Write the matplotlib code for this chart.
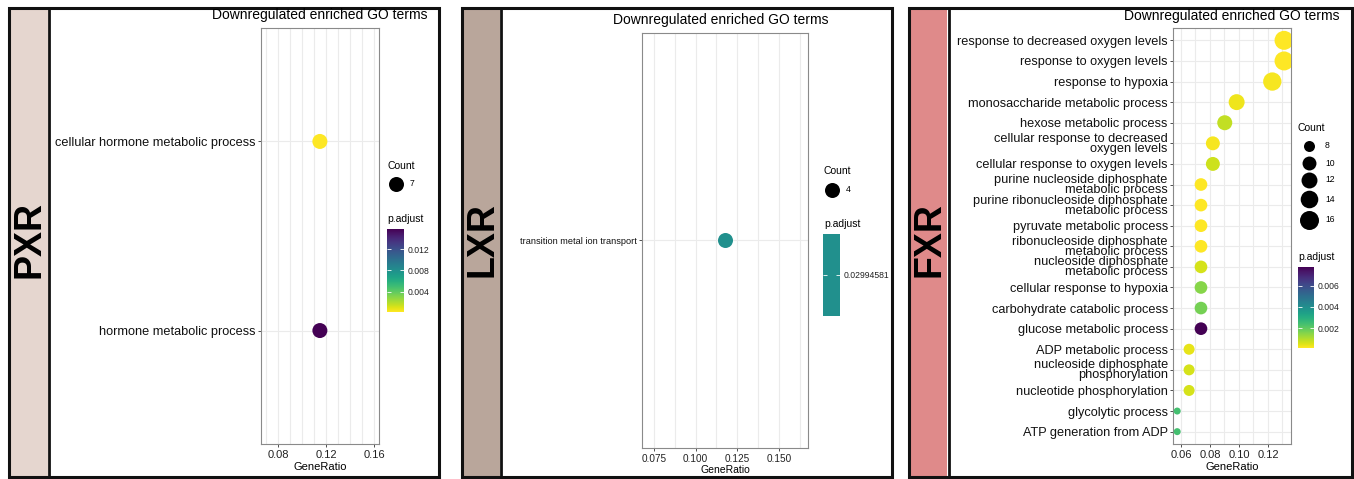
import numpy as np
import matplotlib
matplotlib.use('Agg')
import matplotlib.pyplot as plt
from matplotlib.colors import Normalize, ListedColormap
from matplotlib.patches import Rectangle
from matplotlib.cm import ScalarMappable

plt.rcParams['font.family'] = ['Liberation Sans', 'DejaVu Sans']

W, H = 1354, 479

# ---- data (top to bottom as shown) ----
pxr_terms = ['cellular hormone metabolic process', 'hormone metabolic process']
pxr_ratio = [0.1148, 0.1148]
pxr_count = [7, 7]
pxr_padj = [0.0002, 0.0158]

lxr_terms = ['transition metal ion transport']
lxr_ratio = [0.1176]
lxr_count = [4]
lxr_padj = [0.02994581]

fxr_terms = ['response to decreased oxygen levels', 'response to oxygen levels',
             'response to hypoxia', 'monosaccharide metabolic process',
             'hexose metabolic process', 'cellular response to decreased\noxygen levels',
             'cellular response to oxygen levels', 'purine nucleoside diphosphate\nmetabolic process',
             'purine ribonucleoside diphosphate\nmetabolic process', 'pyruvate metabolic process',
             'ribonucleoside diphosphate\nmetabolic process', 'nucleoside diphosphate\nmetabolic process',
             'cellular response to hypoxia', 'carbohydrate catabolic process',
             'glucose metabolic process', 'ADP metabolic process',
             'nucleoside diphosphate\nphosphorylation', 'nucleotide phosphorylation',
             'glycolytic process', 'ATP generation from ADP']
fxr_ratio = [0.1311, 0.1311, 0.1230, 0.0984, 0.0902, 0.0820, 0.0820, 0.0738, 0.0738, 0.0738,
             0.0738, 0.0738, 0.0738, 0.0738, 0.0738, 0.0656, 0.0656, 0.0656, 0.0574, 0.0574]
fxr_count = [16, 16, 15, 12, 11, 10, 10, 9, 9, 9, 9, 9, 9, 9, 9, 8, 8, 8, 7, 7]
fxr_padj = [0.0001, 0.0001, 0.0002, 0.0003, 0.0008, 0.0002, 0.0007, 0.0001, 0.0001, 0.0001,
            0.0001, 0.0006, 0.0015, 0.0017, 0.0078, 0.0004, 0.0006, 0.0006, 0.0024, 0.0024]
fxr_size_breaks = [8, 10, 12, 14, 16]

strip_labels = ['PXR', 'LXR', 'FXR']
strip_colors = ['#e5d6cf', '#b9a69b', '#df8a8a']

cmap = plt.get_cmap('viridis_r')

fig = plt.figure(figsize=(W / 100, H / 100), dpi=100)
bg = fig.add_axes([0, 0, 1, 1])
bg.set_xlim(0, W)
bg.set_ylim(H, 0)
bg.axis('off')


def px_box(x0, y0, x1, y1):
    return [x0 / W, 1 - y1 / H, (x1 - x0) / W, (y1 - y0) / H]


def diam(c, lo, hi):
    if hi == lo:
        return 15.0
    return 7 + 12 * np.sqrt((c - lo) / (hi - lo))


def to_s(d):
    return (d * 0.72) ** 2


# panel frames and strips
frames = [(8.5, 439, 10, 48, 49), (462, 891.5, 463, 500, 501), (908.5, 1351.5, 910, 947, 948.5)]
for (fx0, fx1, sx0, sx1, dv), lab, col in zip(frames, strip_labels, strip_colors):
    bg.add_patch(Rectangle((sx0, 8), sx1 - sx0, 469, facecolor=col, edgecolor='none'))
    bg.add_patch(Rectangle((fx0, 7.5), fx1 - fx0, 469.5, facecolor='none', edgecolor='#111111', lw=2.2))
    bg.plot([dv, dv], [7.5, 477], color='#111111', lw=2.0)
    bg.text((sx0 + sx1) / 2 + 1, 240, lab, rotation=90, ha='center', va='center',
            fontsize=27, fontweight='bold', color='black')


def dot_panel(box, terms, ratio, count, padj, xlim, xticks, xticklabels, xgrid, norm, cm,
              lo, hi, ylab_fs, xt_fs):
    ax = fig.add_axes(px_box(*box))
    n = len(terms)
    y = np.arange(n)[::-1]
    for g in xgrid:
        ax.axvline(g, color='#ebebeb', lw=0.8, zorder=0)
    for yy in y:
        ax.axhline(yy, color='#ebebeb', lw=0.8, zorder=0)
    sizes = [to_s(diam(c, lo, hi)) for c in count]
    ax.scatter(ratio, y, s=sizes, c=padj, cmap=cm, norm=norm, linewidths=0, zorder=3)
    ax.set_xlim(*xlim)
    ax.set_ylim(-0.6, n - 0.4)
    ax.set_xticks(xticks)
    ax.set_xticklabels(xticklabels)
    ax.set_yticks(y)
    ax.set_yticklabels(terms)
    for t in ax.get_yticklabels():
        t.set_linespacing(0.78)
    ax.tick_params(axis='y', length=2.5, width=0.6, color='#333333', pad=1.2,
                   labelsize=ylab_fs, labelcolor='#111111')
    ax.tick_params(axis='x', length=2.5, width=0.6, color='#333333', pad=1.5,
                   labelsize=xt_fs, labelcolor='#222222')
    for s in ax.spines.values():
        s.set_color('#8a8a8a')
        s.set_linewidth(0.8)
    return ax


def colorbar(box, norm, cm, ticks, labels):
    cax = fig.add_axes(px_box(*box))
    cb = fig.colorbar(ScalarMappable(norm=norm, cmap=cm), cax=cax, ticks=ticks)
    cb.set_ticklabels(labels)
    cb.outline.set_visible(False)
    cax.tick_params(left=True, right=True, labelleft=False, labelright=True, direction='in',
                    color='white', length=3, width=0.6, labelsize=6.2, labelcolor='#222222', pad=2.5)
    return cb


title = 'Downregulated enriched GO terms'

# ---- PXR ----
pn = Normalize(vmin=min(pxr_padj), vmax=max(pxr_padj))
ax1 = dot_panel((261, 28, 379, 444), pxr_terms, pxr_ratio, pxr_count, pxr_padj,
                (0.0658, 0.164), [0.08, 0.12, 0.16], ['0.08', '0.12', '0.16'],
                np.arange(0.07, 0.165, 0.01), pn, cmap, 7, 7, 9.2, 8)
bg.text(320, 15, title, ha='center', va='center', fontsize=10)
bg.text(320, 467, 'GeneRatio', ha='center', va='center', fontsize=8)
bg.text(387, 166, 'Count', ha='left', va='center', fontsize=7.5)
bg.scatter([396], [184], s=to_s(15), color='black', linewidths=0)
bg.text(410, 184, str(pxr_count[0]), ha='left', va='center', fontsize=6.2)
bg.text(387, 219, 'p.adjust', ha='left', va='center', fontsize=7.5)
colorbar((387, 229, 404, 312), pn, cmap, [0.004, 0.008, 0.012], ['0.004', '0.008', '0.012'])

# ---- LXR ----
teal = cmap(0.5)
ln = Normalize(vmin=lxr_padj[0] * 0.9, vmax=lxr_padj[0] * 1.1)
ax2 = dot_panel((642, 33, 808, 448), lxr_terms, lxr_ratio, lxr_count, lxr_padj,
                (0.0678, 0.1675), [0.075, 0.100, 0.125, 0.150], ['0.075', '0.100', '0.125', '0.150'],
                np.arange(0.075, 0.168, 0.0125), ln, cmap, 4, 4, 6.6, 7.2)
bg.text(721, 20, title, ha='center', va='center', fontsize=10)
bg.text(725, 470, 'GeneRatio', ha='center', va='center', fontsize=7.5)
bg.text(824, 171, 'Count', ha='left', va='center', fontsize=7.5)
bg.scatter([832], [190], s=to_s(15), color='black', linewidths=0)
bg.text(846, 190, str(lxr_count[0]), ha='left', va='center', fontsize=6.2)
bg.text(824, 224, 'p.adjust', ha='left', va='center', fontsize=7.5)
colorbar((823, 234, 840, 316), ln, ListedColormap([teal]), [lxr_padj[0]], ['0.02994581'])

# ---- FXR ----
fn = Normalize(vmin=min(fxr_padj), vmax=max(fxr_padj))
lo, hi = min(fxr_count), max(fxr_count)
ax3 = dot_panel((1173, 28, 1291, 444), fxr_terms, fxr_ratio, fxr_count, fxr_padj,
                (0.0545, 0.1359), [0.06, 0.08, 0.10, 0.12], ['0.06', '0.08', '0.10', '0.12'],
                np.arange(0.06, 0.136, 0.01), fn, cmap, lo, hi, 9.2, 8)
bg.text(1232, 16, title, ha='center', va='center', fontsize=10)
bg.text(1232, 467, 'GeneRatio', ha='center', va='center', fontsize=8)
bg.text(1298, 128, 'Count', ha='left', va='center', fontsize=7.5)
leg_y = [146, 163, 180, 199, 220]
for b, yy in zip(fxr_size_breaks, leg_y):
    bg.scatter([1309], [yy], s=to_s(diam(b, lo, hi)), color='black', linewidths=0)
    bg.text(1325, yy, str(b), ha='left', va='center', fontsize=6.2)
bg.text(1298, 257, 'p.adjust', ha='left', va='center', fontsize=7.5)
colorbar((1298, 267, 1314, 348), fn, cmap, [0.002, 0.004, 0.006], ['0.002', '0.004', '0.006'])

fig.savefig('out.png', dpi=100)
